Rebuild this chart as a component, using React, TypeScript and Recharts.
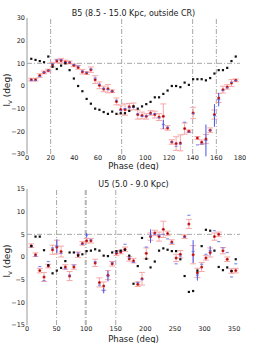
import React from 'react';
import { ScatterChart, Scatter, XAxis, YAxis, ReferenceLine, ErrorBar, Label } from 'recharts';

// B5 panel, phase 0-180
const topPhase = [3.6, 7.2, 10.8, 14.4, 18, 21.6, 25.2, 28.8, 32.4, 36, 39.6, 43.2, 46.8, 50.4, 54, 57.6, 61.2, 64.8, 68.4, 72, 75.6, 79.2, 82.8, 86.4, 90, 93.6, 97.2, 100.8, 104.4, 108, 111.6, 115.2, 118.8, 122.4, 126, 129.6, 133.2, 136.8, 140.4, 144, 147.6, 151.2, 154.8, 158.4, 162, 165.6, 169.2, 172.8, 176.4];
const topBlack = [12, 11.5, 11, 10.5, 13, 8.5, 7.5, 9, 10, 7, 3.3, 0, -2.3, -5.7, -7.8, -10, -10.5, -11.5, -12.3, -11.3, -12.3, -12, -12, -11, -9, -10, -9, -8, -7, -5, -5, -3.5, -2, 0, 0, -0.5, 1.5, 0.5, 3, 3, 3, 2.5, 3.5, 5.5, 7, 7, 8, 11, 13];
const topRed = [2.8, 2.8, 4.6, 6, 6.8, 9.4, 11, 11.2, 10.6, 10.4, 9.1, 8.2, 6.3, 5.7, 7.2, 2.8, 0.3, -1.3, -1.2, -2.3, -6.8, -10.4, -10.4, -9.2, -9, -12.6, -13, -13.4, -11.9, -12.6, -13.7, -13.4, -18.5, -24.7, -25.4, -25.1, -18.8, -20, -11.9, -22.9, -24.8, -23.4, -19.5, -12.6, -5.3, -1.6, -0.4, 1.3, 2.5];
const topErr = [0.6, 0.6, 0.8, 0.6, 0.6, 1.0, 0.8, 1.0, 0.8, 0.6, 0.6, 0.8, 1.0, 0.6, 1.2, 1.7, 1.5, 1.2, 1.8, 0.6, 1.5, 2.0, 2.5, 1.5, 1.5, 2.0, 1.5, 1.2, 1.0, 1.5, 1.5, 5.5, 1.0, 1.0, 3.0, 3.5, 2.5, 0.6, 2.5, 0.6, 1.0, 2.0, 1.0, 2.0, 2.0, 1.5, 1.0, 1.5, 0.6];
const topBlue = [2.5, 2.5, 4.2, 6, 6.8, 9.8, 11.5, 11.6, 10.2, 10.4, 9.4, 8.8, 6.6, 6, 7.5, 3.5, 0.8, -1, -1.6, -2.3, -6.3, -10.8, -10, -9.6, -9.4, -12.3, -13.4, -13.2, -12.4, -12.2, -14, -17, -18.2, -24.7, -26.6, -25.6, -16, -20.4, -12.2, -26, -25.6, -24, -19.5, -13, -6, -2, -0.8, 1.6, 2.4];
const topBlueErr = [0, 0, 0, 0, 0, 0, 0, 0, 0, 0, 0, 0, 0, 0, 0, 0, 0, 0, 0, 0, 0, 0, 0, 0, 0, 0, 0, 0, 0, 0, 0, 2, 0, 0, 0, 0, 0, 0, 0, 0, 0, 7, 0, 5, 3, 0, 0, 0, 0];
const topXTicks = [0, 20, 40, 60, 80, 100, 120, 140, 160, 180];
const topYTicks = [-30, -20, -10, 0, 10, 20, 30];
const topVLines = [20, 80, 140, 160];

// U5 panel, phase 0-360
const botPhase = [7.2, 14.4, 21.6, 28.8, 36, 43.2, 50.4, 57.6, 64.8, 72, 79.2, 86.4, 93.6, 100.8, 108, 115.2, 122.4, 129.6, 136.8, 144, 151.2, 158.4, 165.6, 172.8, 180, 187.2, 194.4, 201.6, 208.8, 216, 223.2, 230.4, 237.6, 244.8, 252, 259.2, 266.4, 273.6, 280.8, 288, 295.2, 302.4, 309.6, 316.8, 324, 331.2, 338.4, 345.6, 352.8];
const botBlack = [2.4, 4.5, 4.5, 1.5, -1.8, -3.6, -3.0, -2.4, -0.9, 1.0, 1.0, 0.3, 0.6, 1.3, 1.4, 1.7, 1.4, 0.3, 0.2, 1.0, 1.3, 1.4, 1.6, 0.3, -5.9, -2.0, 4.2, -0.4, -2.3, -1.0, 1.4, 1.9, 1.6, 1.3, 1.3, -0.5, -4.2, -7.7, -7.5, -3.0, 2.4, 6.0, 5.8, 1.4, -2.2, -2.9, -2.3, -3.1, -0.5];
const botRed = [2.5, 0.5, -3.0, -4.4, -2.0, 1.6, 2.2, 1.2, -2.2, -4.2, -2.2, 0.5, 3.0, 3.6, 3.6, -1.3, -5.6, -6.4, -4.0, -1.5, 0.8, 1.1, 1.7, -0.4, -0.8, -6.0, -4.8, 0.8, 4.5, 5.3, 4.5, 6.1, 5.2, 3.3, -0.2, 0.6, 4.5, 7.3, 0.5, -3.5, -2.2, -0.2, 1.0, 4.5, 5.0, 1.4, -0.5, -3.1, -3.0];
const botErr = [0.4, 0.4, 0.5, 1.0, 0.4, 1.0, 1.5, 1.2, 0.5, 1.0, 0.5, 0.6, 0.4, 0.5, 0.5, 0.8, 1.0, 0.9, 1.0, 0.5, 0.5, 0.4, 0.5, 0.5, 0.5, 0.5, 1.4, 1.2, 0.8, 0.6, 1.0, 1.8, 0.5, 0.5, 0.8, 0.8, 0.4, 1.0, 2.0, 1.0, 1.0, 0.5, 1.0, 0.8, 0.5, 0.7, 0.5, 0.5, 0.5];
const botBlue = [2.3, 0.2, -2.1, -5.2, -1.0, 2.0, 2.4, 0.8, -2.6, -4.0, -1.8, 0.9, 2.8, 4.8, 3.8, -1.0, -6.2, -7.4, -4.2, -1.2, 1.0, 1.3, 2.8, -0.2, -1.2, -5.6, -5.0, 2.2, 4.6, 5.0, 4.8, 5.0, 4.0, 3.0, -1.5, 0.2, 4.4, 9.2, 1.2, -4.0, -1.6, 0.6, 1.4, 5.8, 3.4, 2.0, 1.0, -4.4, -1.5];
const botBlueErr = [0, 0, 0, 0, 0, 0, 1.5, 0, 0, 0, 0, 0, 0, 0.5, 0, 0, 0, 0.6, 1.2, 0, 0, 0, 0, 0, 0, 0, 0, 0, 1.5, 0, 0, 0, 0, 0, 0, 0, 0, 0, 2.5, 1.2, 0, 0, 1.0, 0, 0, 0, 0, 0, 0];
const botXTicks = [0, 50, 100, 150, 200, 250, 300, 350];
const botYTicks = [-15, -10, -5, 0, 5, 10, 15];
const botVLines = [50, 98.5, 100, 150];

const FONT = '"DejaVu Sans", sans-serif';
const GRID = '#a8a8a8';
const DASHDOT = '5 2 1 2';

const fmt = (v: number) => (v < 0 ? `\u2212${-v}` : `${v}`);

const blackDot = (p: any) => <rect x={p.cx - 1.1} y={p.cy - 1.1} width={2.2} height={2.2} fill="#111" />;
const redDot = (p: any) => (
  <g>
    <circle cx={p.cx} cy={p.cy} r={1.5} fill="#e02626" />
    <rect x={p.cx - 0.5} y={p.cy - 0.5} width={1} height={1} fill="#5a0a0a" />
  </g>
);
const blueDash = (p: any) => <rect x={p.cx - 1.5} y={p.cy - 0.6} width={3} height={1.2} fill="#5566ee" fillOpacity={0.75} />;

const YLab = ({ viewBox }: any) => {
  const x = 10;
  const y = viewBox.y + viewBox.height / 2 + 4;
  return (
    <text x={x} y={y} transform={`rotate(-90 ${x} ${y})`} textAnchor="middle" fontSize={9} fill="#222" fontFamily={FONT}>
      l<tspan fontSize={6.5} dy={2}>v</tspan>
      <tspan dy={-2}> (deg)</tspan>
    </text>
  );
};

interface PanelProps {
  phase: number[];
  black: number[];
  red: number[];
  err: number[];
  blue: number[];
  blueErr: number[];
  xTicks: number[];
  yTicks: number[];
  vLines: number[];
  hLine: number;
  xMax: number;
  height: number;
  top: number;
  bottom: number;
}

function Panel(props: PanelProps) {
  const { phase, black, red, err, blue, blueErr, xTicks, yTicks, vLines, hLine, xMax, height, top, bottom } = props;
  const blackPts = phase.map((x, i) => ({ x, y: black[i] }));
  const redPts = phase.map((x, i) => ({ x, y: red[i], err: err[i] }));
  const bluePts = phase.map((x, i) => ({ x, y: blue[i], err: blueErr[i] }));
  const yMin = yTicks[0];
  const yMax = yTicks[yTicks.length - 1];

  return (
    <ScatterChart width={267} height={height} margin={{ top, right: 27, bottom: 0, left: 0 }}>
      <XAxis
        type="number"
        dataKey="x"
        domain={[0, xMax]}
        ticks={xTicks}
        axisLine={false}
        tickLine={false}
        tickSize={0}
        tickMargin={1}
        height={bottom}
        tick={{ fontSize: 6.5, fill: '#222', fontFamily: FONT }}
        allowDataOverflow
      >
        <Label value="Phase (deg)" position="insideBottom" offset={1.5} fontSize={8.5} fill="#222" fontFamily={FONT} />
      </XAxis>
      <YAxis
        type="number"
        dataKey="y"
        domain={[yMin, yMax]}
        ticks={yTicks}
        width={27}
        axisLine={{ stroke: '#999' }}
        tickLine={false}
        tickSize={0}
        tickMargin={2}
        tickFormatter={fmt}
        tick={{ fontSize: 6.5, fill: '#222', fontFamily: FONT }}
        allowDataOverflow
      >
        <Label content={<YLab />} />
      </YAxis>
      {vLines.map((v) => (
        <ReferenceLine key={v} x={v} stroke={GRID} strokeDasharray={DASHDOT} />
      ))}
      <ReferenceLine y={hLine} stroke={GRID} strokeDasharray={DASHDOT} />
      <Scatter data={redPts} shape={redDot} isAnimationActive={false}>
        <ErrorBar dataKey="err" direction="y" width={3} stroke="#f5a8a8" strokeWidth={1} />
      </Scatter>
      <Scatter data={bluePts} shape={blueDash} isAnimationActive={false}>
        <ErrorBar dataKey="err" direction="y" width={0} stroke="#4455ee" strokeWidth={1} />
      </Scatter>
      <Scatter data={blackPts} shape={blackDot} isAnimationActive={false} />
    </ScatterChart>
  );
}

const titleStyle: React.CSSProperties = {
  position: 'absolute',
  left: 27,
  width: 213,
  textAlign: 'center',
  fontFamily: FONT,
  fontSize: 8,
  color: '#222',
  lineHeight: '10px',
  whiteSpace: 'nowrap',
};

export default function App() {
  return (
    <div style={{ position: 'absolute', left: 0, top: 0, width: 267, height: 343, background: '#fff' }}>
      <div style={{ position: 'absolute', left: 0, top: 0 }}>
        <Panel
          phase={topPhase}
          black={topBlack}
          red={topRed}
          err={topErr}
          blue={topBlue}
          blueErr={topBlueErr}
          xTicks={topXTicks}
          yTicks={topYTicks}
          vLines={topVLines}
          hLine={10}
          xMax={180}
          height={170}
          top={18}
          bottom={16}
        />
      </div>
      <div style={{ position: 'absolute', left: 0, top: 170 }}>
        <Panel
          phase={botPhase}
          black={botBlack}
          red={botRed}
          err={botErr}
          blue={botBlue}
          blueErr={botBlueErr}
          xTicks={botXTicks}
          yTicks={botYTicks}
          vLines={botVLines}
          hLine={5}
          xMax={360}
          height={173}
          top={19}
          bottom={18}
        />
      </div>
      <div style={{ ...titleStyle, top: 9 }}>B5 (8.5 - 15.0 Kpc, outside CR)</div>
      <div style={{ ...titleStyle, top: 180 }}>U5 (5.0 - 9.0 Kpc)</div>
    </div>
  );
}
